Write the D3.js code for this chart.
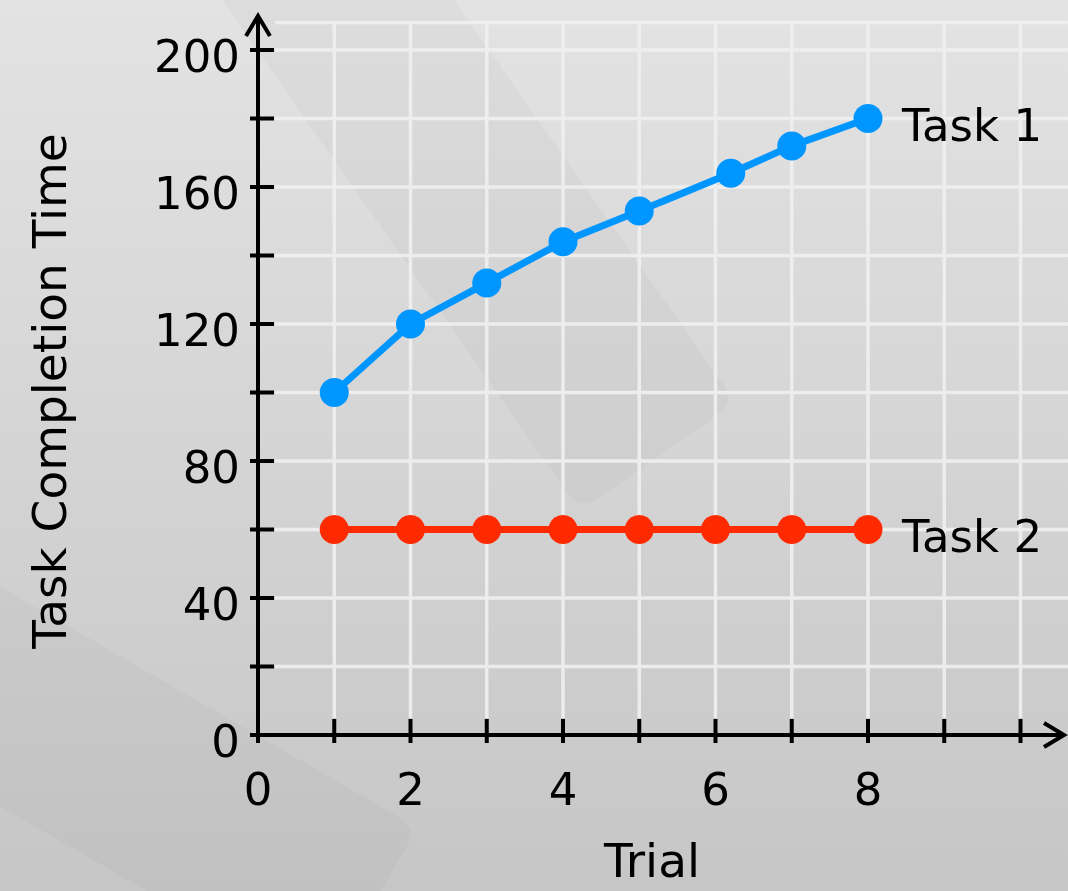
<!DOCTYPE html>
<html>
<head>
<meta charset="utf-8">
<script src="https://cdn.jsdelivr.net/npm/d3@7"></script>
<style>
  html, body { margin: 0; padding: 0; }
  body { width: 1068px; height: 891px; overflow: hidden; }
  text { font-family: "DejaVu Sans", sans-serif; fill: #000; }
</style>
</head>
<body>
<div id="chart"></div>
<script>
// data
var trials1 = [1, 2, 3, 4, 5, 6.2, 7, 8];
var task1 = [100, 120, 132, 144, 153, 164, 172, 180];
var trials2 = [1, 2, 3, 4, 5, 6, 7, 8];
var task2 = [60, 60, 60, 60, 60, 60, 60, 60];
var seriesNames = ["Task 1", "Task 2"];
var xTickLabels = [0, 2, 4, 6, 8];
var yTickLabels = [0, 40, 80, 120, 160, 200];

var width = 1068, height = 891;

var svg = d3.select("#chart").append("svg")
  .attr("width", width).attr("height", height);

// background
var defs = svg.append("defs");
var grad = defs.append("linearGradient").attr("id", "bg")
  .attr("x1", 0).attr("y1", 0).attr("x2", 0).attr("y2", 1);
grad.append("stop").attr("offset", "0%").attr("stop-color", "#e3e3e3");
grad.append("stop").attr("offset", "100%").attr("stop-color", "#c6c6c6");
svg.append("rect").attr("width", width).attr("height", height).attr("fill", "url(#bg)");

// faint film strip decoration
var deco = svg.append("g").attr("opacity", 0.025);
deco.append("rect")
  .attr("x", -90).attr("y", -330).attr("width", 190).attr("height", 720)
  .attr("rx", 20)
  .attr("transform", "translate(430,140) rotate(-35)")
  .attr("fill", "#000");
deco.append("rect")
  .attr("x", -95).attr("y", -300).attr("width", 190).attr("height", 600)
  .attr("rx", 20)
  .attr("transform", "translate(110,760) rotate(-60)")
  .attr("fill", "#000");

var x = d3.scaleLinear().domain([0, 10]).range([258, 1020.5]);
var y = d3.scaleLinear().domain([0, 200]).range([735, 50]);

// grid
var grid = svg.append("g").attr("stroke", "#f0f0f0").attr("stroke-width", 3.5).attr("opacity", 0.9);
grid.selectAll("line.v").data(d3.range(1, 12)).enter().append("line")
  .attr("x1", function (d) { return x(d); }).attr("x2", function (d) { return x(d); })
  .attr("y1", y(208)).attr("y2", y(0) - 17);
grid.selectAll("line.h").data(d3.range(20, 220, 20).concat([208])).enter().append("line")
  .attr("x1", x(0) + 17).attr("x2", width)
  .attr("y1", function (d) { return y(d); }).attr("y2", function (d) { return y(d); });

// axes
var axes = svg.append("g").attr("stroke", "#000").attr("stroke-width", 4).attr("fill", "none");
axes.append("line").attr("x1", x(0)).attr("x2", x(0)).attr("y1", y(0) + 8).attr("y2", 16);
axes.append("path").attr("d", "M" + (x(0) - 12) + ",36 L" + x(0) + ",16 L" + (x(0) + 12) + ",36");
axes.append("line").attr("x1", x(0) - 8).attr("x2", 1064).attr("y1", y(0)).attr("y2", y(0));
axes.append("path").attr("d", "M1044," + (y(0) - 12) + " L1064," + y(0) + " L1044," + (y(0) + 12));

axes.selectAll("line.yt").data(d3.range(20, 220, 20)).enter().append("line")
  .attr("x1", x(0) - 8).attr("x2", x(0) + 16)
  .attr("y1", function (d) { return y(d); }).attr("y2", function (d) { return y(d); });
axes.selectAll("line.xt").data(d3.range(1, 11)).enter().append("line")
  .attr("x1", function (d) { return x(d); }).attr("x2", function (d) { return x(d); })
  .attr("y1", y(0) - 16).attr("y2", y(0) + 8);

// tick labels
svg.append("g").selectAll("text").data(yTickLabels).enter().append("text")
  .attr("x", 240).attr("y", function (d) { return y(d) + 22; })
  .attr("text-anchor", "end").style("font-size", "45px")
  .text(function (d) { return d; });
svg.append("g").selectAll("text").data(xTickLabels).enter().append("text")
  .attr("x", function (d) { return x(d); }).attr("y", 805)
  .attr("text-anchor", "middle").style("font-size", "45px")
  .text(function (d) { return d; });

// axis titles
svg.append("text").attr("transform", "translate(66,391) rotate(-90)")
  .attr("text-anchor", "middle").style("font-size", "47px")
  .text("Task Completion Time");
svg.append("text").attr("x", 652).attr("y", 877)
  .attr("text-anchor", "middle").style("font-size", "47px")
  .text("Trial");

// series
var series = [
  { name: seriesNames[0], xs: trials1, ys: task1, color: "#0096ff" },
  { name: seriesNames[1], xs: trials2, ys: task2, color: "#ff2a00" }
];

var line = d3.line()
  .x(function (d) { return x(d[0]); })
  .y(function (d) { return y(d[1]); });

series.forEach(function (s) {
  var pts = s.xs.map(function (v, i) { return [v, s.ys[i]]; });
  var g = svg.append("g");
  g.append("path").datum(pts).attr("d", line)
    .attr("fill", "none").attr("stroke", s.color).attr("stroke-width", 7)
    .attr("stroke-linejoin", "round");
  g.selectAll("circle").data(pts).enter().append("circle")
    .attr("cx", function (d) { return x(d[0]); })
    .attr("cy", function (d) { return y(d[1]); })
    .attr("r", 14.5).attr("fill", s.color);
  var last = pts[pts.length - 1];
  g.append("text").attr("x", x(last[0]) + 34).attr("y", y(last[1]) + 22)
    .style("font-size", "45px").text(s.name);
});
</script>
</body>
</html>
